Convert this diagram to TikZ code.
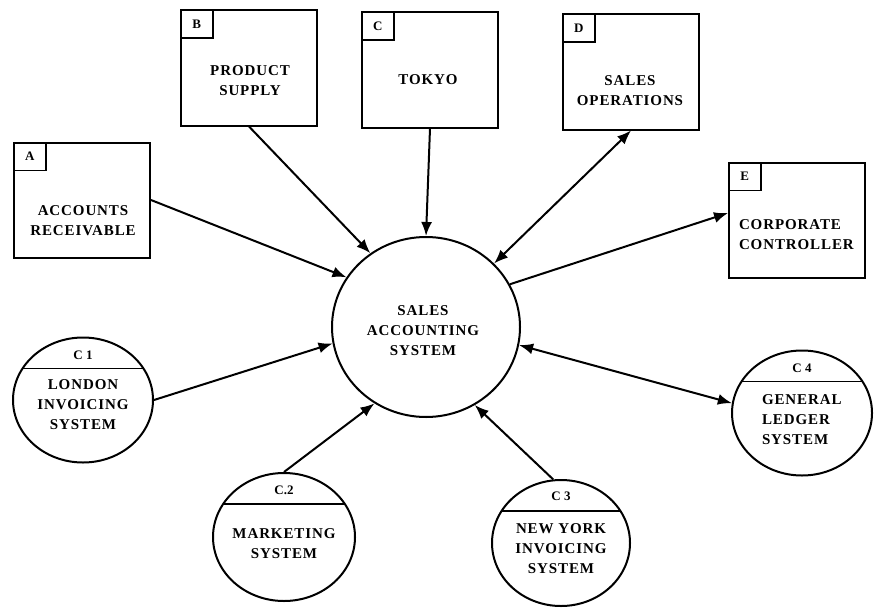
\documentclass[tikz,border=0pt]{standalone}
\usepackage{fontspec}
\setmainfont{Liberation Serif}
\usetikzlibrary{shapes.geometric,arrows.meta}
\begin{document}
\begin{tikzpicture}[x=1pt,y=-1pt,line width=2pt,
  txt/.style={font=\fontsize{15}{20}\selectfont\bfseries\addfontfeature{LetterSpace=6}, align=center, inner sep=0pt},
  tag/.style={font=\fontsize{13}{15}\selectfont\bfseries, inner sep=0pt},
  entity/.style={draw, rectangle, minimum width=136pt, minimum height=115pt, inner sep=0pt},
  tagbox/.style={draw, rectangle, minimum width=32pt, minimum height=28pt, inner sep=0pt, anchor=north west, line width=1.6pt},
  proc/.style={draw, ellipse, inner sep=0pt},
  subproc/.style={proc, minimum width=140pt, minimum height=125pt,
    path picture={\draw[line width=1.8pt] ([yshift=-31pt]path picture bounding box.north west) -- ([yshift=-31pt]path picture bounding box.north east);}},
  flow/.style={-{Latex[length=14pt,width=11pt]}},
  dflow/.style={{Latex[length=14pt,width=11pt]}-{Latex[length=14pt,width=11pt]}}]
\useasboundingbox (0,0) rectangle (882,607);

% external entities
\node[entity] (A) at (82,200) {};
\node[entity] (B) at (249,68) {};
\node[entity] (C) at (430,70) {};
\node[entity] (D) at (631,72) {};
\node[entity] (E) at (797,220) {};

\node[tagbox] (Atag) at (A.north west) {}; \node[tag] (Al) at (Atag) {A};
\node[tagbox] (Btag) at (B.north west) {}; \node[tag] (Bl) at (Btag) {B};
\node[tagbox] (Ctag) at (C.north west) {}; \node[tag] (Cl) at (Ctag) {C};
\node[tagbox] (Dtag) at (D.north west) {}; \node[tag] (Dl) at (Dtag) {D};
\node[tagbox] (Etag) at (E.north west) {}; \node[tag] (El) at (Etag) {E};

\node[txt] (At) at (83,221) {ACCOUNTS\\RECEIVABLE};
\node[txt] (Bt) at (250,81) {PRODUCT\\SUPPLY};
\node[txt] (Ct) at (428,80) {TOKYO};
\node[txt] (Dt) at (630,91) {SALES\\OPERATIONS};
\node[txt, anchor=west, align=left] (Et) at (738,235) {CORPORATE\\CONTROLLER};

% central process
\node[proc, minimum width=188pt, minimum height=180pt] (S) at (426,327) {};
\node[txt] (St) at (423,331) {SALES\\ACCOUNTING\\SYSTEM};

% subsystems
\node[subproc] (C1) at (83,400) {};
\node[subproc, minimum width=142pt, minimum height=128pt] (C2) at (284,537) {};
\node[subproc, minimum width=138pt, minimum height=126pt] (C3) at (561,543) {};
\node[subproc] (C4) at (802,413) {};

\node[tag] (C1l) at (83,355) {C 1};
\node[tag] (C2l) at (284,490) {C.2};
\node[tag] (C3l) at (561,496) {C 3};
\node[tag] (C4l) at (802,368) {C 4};

\node[txt] (C1t) at (83,405) {LONDON\\INVOICING\\SYSTEM};
\node[txt] (C2t) at (284,544) {MARKETING\\SYSTEM};
\node[txt] (C3t) at (561,549) {NEW YORK\\INVOICING\\SYSTEM};
\node[txt, anchor=west, align=left] (C4t) at (761,420) {GENERAL\\LEDGER\\SYSTEM};

% data flows
\draw[flow] (A.east) -- (S.148);
\draw[flow] (B.south) -- (S.127);
\draw[flow] (C.south) -- (S.90);
\draw[dflow] (S.43) -- (D.south);
\draw[flow] (S.27) -- ([yshift=7pt]E.west);
\draw[flow] (C1.east) -- (S.190);
\draw[flow] (C2.north) -- (S.236);
\draw[flow] (C3.97) -- (S.302);
\draw[dflow] (S.349) -- (C4.172);
\end{tikzpicture}
\end{document}
